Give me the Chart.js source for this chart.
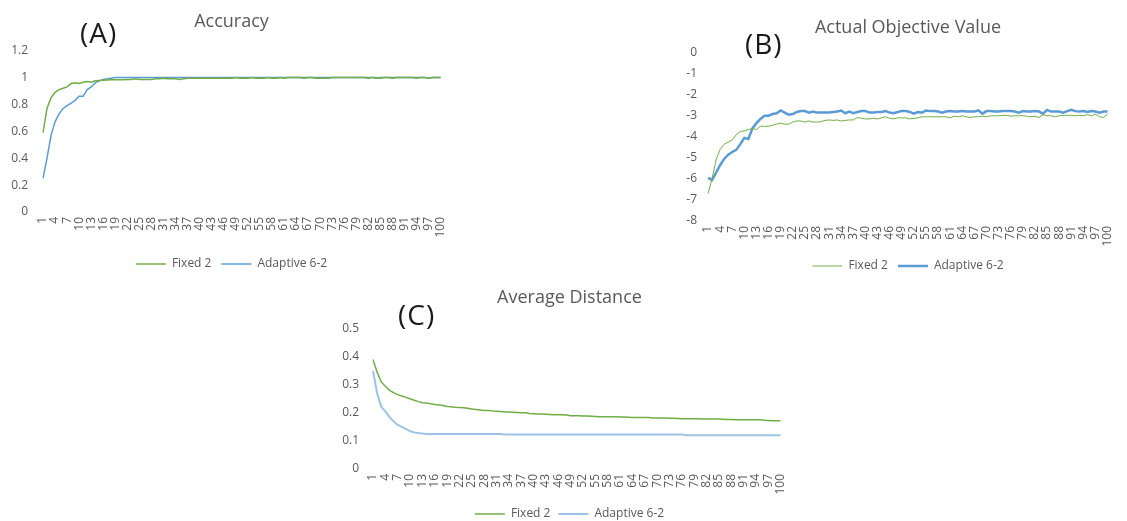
<!DOCTYPE html>
<html>
<head>
<meta charset="utf-8">
<script src="https://cdn.jsdelivr.net/npm/chart.js@4.4.1/dist/chart.umd.min.js"></script>
<style>
  body { margin: 0; background: #fff; width: 1127px; height: 521px; position: relative; overflow: hidden; font-family: "Open Sans", sans-serif; }
  .box { position: absolute; }
  .tag { position: absolute; font-size: 28px; color: #1a1a1a; line-height: 1; letter-spacing: 1px; }
</style>
</head>
<body>
<div class="box" style="left:0;top:0;width:460px;height:280px"><canvas id="accuracy"></canvas></div>
<div class="box" style="left:670px;top:2px;width:457px;height:280px"><canvas id="objective"></canvas></div>
<div class="box" style="left:330px;top:285px;width:470px;height:245px"><canvas id="distance"></canvas></div>
<div class="tag" style="left:80px;top:18px">(A)</div>
<div class="tag" style="left:745px;top:29px">(B)</div>
<div class="tag" style="left:398px;top:300px">(C)</div>
<script>
var seriesNames = ["Fixed 2", "Adaptive 6-2"];

var iterations = [];
for (var i = 1; i <= 100; i++) iterations.push(String(i));

// (A) accuracy
var fixedAcc = [
  0.59, 0.77, 0.85, 0.89, 0.91, 0.92, 0.93, 0.955, 0.96, 0.955,
  0.965, 0.97, 0.965, 0.975, 0.978, 0.98, 0.982, 0.983, 0.983, 0.984,
  0.984, 0.985, 0.985, 0.99, 0.985, 0.985, 0.985, 0.985, 0.99, 0.99,
  0.995, 0.99, 0.99, 0.99, 0.985, 0.99, 0.995, 0.995, 0.995, 0.995,
  0.995, 0.995, 0.995, 0.995, 0.995, 0.995, 0.995, 0.995, 1, 0.995,
  0.995, 0.995, 1, 0.995, 0.995, 0.995, 1, 0.995, 0.995, 1,
  0.995, 1, 1, 1, 1, 0.995, 1, 1, 0.995, 0.995,
  0.995, 0.995, 1, 1, 1, 1, 1, 1, 1, 1,
  1, 0.995, 1, 1, 0.995, 1, 1, 0.995, 1, 1,
  1, 1, 1, 0.995, 1, 1, 0.995, 1, 1, 1
];
var adaptiveAcc = [
  0.25, 0.40, 0.57, 0.67, 0.73, 0.77, 0.79, 0.81, 0.83, 0.86,
  0.86, 0.91, 0.93, 0.96, 0.975, 0.985, 0.99, 0.995, 1, 1,
  1, 1, 1, 1, 1, 1, 1, 1, 1, 1,
  1, 1, 1, 1, 1, 1, 1, 1, 1, 1,
  1, 1, 1, 1, 1, 1, 1, 1, 1, 1,
  1, 1, 1, 1, 1, 1, 1, 1, 1, 1,
  1, 1, 1, 1, 1, 1, 1, 1, 1, 1,
  1, 1, 1, 1, 1, 1, 1, 1, 1, 1,
  1, 1, 1, 0.995, 1, 1, 1, 1, 1, 1,
  1, 1, 1, 1, 1, 1, 0.995, 1, 1, 1
];

// (B) actual objective value
var fixedObj = [
  -6.7, -6.0, -5.1, -4.6, -4.35, -4.25, -4.15, -3.9, -3.75, -3.72,
  -3.65, -3.62, -3.65, -3.5, -3.5, -3.5, -3.45, -3.4, -3.35, -3.4,
  -3.4, -3.3, -3.25, -3.25, -3.3, -3.25, -3.3, -3.3, -3.28, -3.22,
  -3.2, -3.22, -3.2, -3.25, -3.22, -3.2, -3.2, -3.08, -3.12, -3.15,
  -3.15, -3.12, -3.15, -3.1, -3.05, -3.12, -3.15, -3.1, -3.1, -3.1,
  -3.15, -3.12, -3.1, -3.05, -3.05, -3.05, -3.05, -3.05, -3.05, -3.05,
  -3.1, -3.02, -3.05, -3.0, -3.05, -3.08, -3.05, -3.05, -3.02, -3.05,
  -3.0, -3.0, -3.0, -2.98, -2.98, -3.02, -3.0, -3.0, -3.0, -3.02,
  -3.05, -3.02, -3.08, -2.95, -3.0, -3.0, -3.05, -3.0, -2.98, -2.98,
  -2.98, -3.0, -2.98, -3.0, -2.95, -3.0, -2.92, -3.05, -3.08, -2.92
];
var adaptiveObj = [
  -5.95, -6.05, -5.7, -5.35, -5.05, -4.85, -4.72, -4.62, -4.35, -4.05,
  -4.1, -3.6, -3.35, -3.15, -3.0, -3.0, -2.92, -2.88, -2.75, -2.85,
  -2.95, -2.92, -2.82, -2.78, -2.78, -2.85, -2.8, -2.85, -2.85, -2.85,
  -2.85, -2.82, -2.8, -2.75, -2.88, -2.8, -2.88, -2.82, -2.78, -2.78,
  -2.85, -2.85, -2.82, -2.82, -2.78, -2.85, -2.88, -2.82, -2.78, -2.78,
  -2.82, -2.9, -2.82, -2.85, -2.75, -2.78, -2.78, -2.8, -2.85, -2.8,
  -2.78, -2.8, -2.8, -2.78, -2.8, -2.8, -2.8, -2.75, -2.9, -2.78,
  -2.78, -2.8, -2.8, -2.78, -2.78, -2.78, -2.8, -2.85, -2.78, -2.8,
  -2.8, -2.78, -2.8, -2.9, -2.72, -2.8, -2.8, -2.8, -2.85, -2.78,
  -2.72, -2.78, -2.8, -2.78, -2.82, -2.78, -2.8, -2.85, -2.8, -2.8
];

// (C) average distance
var fixedDist = [
  0.39, 0.345, 0.31, 0.295, 0.28, 0.272, 0.265, 0.26, 0.255, 0.25,
  0.245, 0.24, 0.236, 0.235, 0.232, 0.23, 0.228, 0.226, 0.223, 0.222,
  0.22, 0.219, 0.218, 0.216, 0.214, 0.212, 0.21, 0.208, 0.208, 0.207,
  0.206, 0.205, 0.203, 0.203, 0.202, 0.201, 0.2, 0.2, 0.198, 0.197,
  0.196, 0.196, 0.195, 0.194, 0.193, 0.193, 0.193, 0.192, 0.19, 0.19,
  0.19, 0.189, 0.189, 0.188, 0.187, 0.186, 0.186, 0.186, 0.186, 0.186,
  0.185, 0.185, 0.184, 0.183, 0.183, 0.183, 0.183, 0.183, 0.182, 0.182,
  0.182, 0.182, 0.181, 0.181, 0.18, 0.179, 0.179, 0.179, 0.179, 0.179,
  0.178, 0.178, 0.178, 0.178, 0.178, 0.177, 0.176, 0.176, 0.175, 0.175,
  0.175, 0.175, 0.175, 0.175, 0.175, 0.174, 0.173, 0.172, 0.172, 0.172
];
var adaptiveDist = [
  0.35, 0.27, 0.222, 0.205, 0.185, 0.17, 0.157, 0.15, 0.143, 0.135,
  0.13, 0.128, 0.126, 0.125, 0.125, 0.125, 0.125, 0.125, 0.125, 0.125,
  0.125, 0.125, 0.125, 0.125, 0.125, 0.125, 0.125, 0.125, 0.125, 0.125,
  0.125, 0.125, 0.123, 0.123, 0.123, 0.123, 0.123, 0.123, 0.123, 0.123,
  0.123, 0.123, 0.123, 0.123, 0.123, 0.123, 0.123, 0.123, 0.123, 0.123,
  0.123, 0.123, 0.123, 0.123, 0.123, 0.123, 0.123, 0.123, 0.123, 0.123,
  0.123, 0.123, 0.123, 0.123, 0.123, 0.123, 0.123, 0.123, 0.123, 0.123,
  0.123, 0.123, 0.123, 0.123, 0.123, 0.123, 0.12, 0.12, 0.12, 0.12,
  0.12, 0.12, 0.12, 0.12, 0.12, 0.12, 0.12, 0.12, 0.12, 0.12,
  0.12, 0.12, 0.12, 0.12, 0.12, 0.12, 0.12, 0.12, 0.12, 0.12
];

var green = '#70AD47';
var blue = '#5B9BD5';
var lightBlue = '#9DC3E6';
var textGrey = '#595959';
var fontFamily = '"Open Sans", sans-serif';

// Excel centres title and legend on the whole chart, not on the plot: nudge them right
var shiftBoxes = {
  id: 'shiftBoxes',
  afterLayout: function (chart, args, opts) {
    [chart.titleBlock, chart.legend].forEach(function (b) {
      if (!b) return;
      b.left += opts.shift;
      b.right += opts.shift;
    });
  }
};

function lineChart(id, title, first, second, y, look) {
  return new Chart(document.getElementById(id), {
    type: 'line',
    plugins: [shiftBoxes],
    data: {
      labels: iterations,
      datasets: [
        { label: seriesNames[0], data: first, borderColor: green, backgroundColor: green,
          borderWidth: look.w1, pointRadius: 0, tension: 0 },
        { label: seriesNames[1], data: second, borderColor: look.blue, backgroundColor: look.blue,
          borderWidth: look.w2, pointRadius: 0, tension: 0 }
      ]
    },
    options: {
      responsive: true,
      maintainAspectRatio: false,
      animation: false,
      layout: { padding: { left: 0, right: look.right, top: 0, bottom: 0 } },
      plugins: {
        shiftBoxes: { shift: look.shift },
        title: {
          display: true, text: title, color: textGrey,
          font: { family: fontFamily, size: 18, weight: 'normal' },
          padding: look.titlePad
        },
        legend: {
          position: 'bottom',
          labels: {
            usePointStyle: true, pointStyle: 'line', pointStyleWidth: 30,
            color: textGrey, font: { family: fontFamily, size: 12 }, padding: look.legendPad
          }
        },
        tooltip: { enabled: false }
      },
      scales: {
        x: {
          grid: { display: false, drawTicks: false },
          border: { display: false },
          afterFit: function (s) { s.height = look.xHeight; },
          ticks: {
            autoSkip: false, maxRotation: 90, minRotation: 90, padding: 5,
            color: textGrey, font: { family: fontFamily, size: 12 },
            callback: function (v, i) { return (i % 3 === 0 || i === 99) ? this.getLabelForValue(v) : ''; }
          }
        },
        y: {
          min: y.min, max: y.max,
          grid: { display: false, drawTicks: false },
          border: { display: false },
          afterFit: function (s) { s.width = look.yWidth; },
          ticks: {
            stepSize: y.step, padding: look.yPad,
            color: textGrey, font: { family: fontFamily, size: 12 },
            callback: function (v) { return String(Number(v.toFixed(1))); }
          }
        }
      }
    }
  });
}

var accChart = lineChart('accuracy', 'Accuracy', fixedAcc, adaptiveAcc,
  { min: 0, max: 1.2, step: 0.2 },
  { w1: 1.5, w2: 1.5, blue: blue, right: 17, shift: 10, titlePad: { top: 11, bottom: 18 },
    yWidth: 43, yPad: 15, xHeight: 36, legendPad: 10 });

var objChart = lineChart('objective', 'Actual Objective Value', fixedObj, adaptiveObj,
  { min: -8, max: 0, step: 1 },
  { w1: 1, w2: 2.5, blue: blue, right: 5, shift: 12, titlePad: { top: 15, bottom: 14 },
    yWidth: 38, yPad: 11, xHeight: 29, legendPad: 10 });

var distChart = lineChart('distance', 'Average Distance', fixedDist, adaptiveDist,
  { min: 0, max: 0.5, step: 0.1 },
  { w1: 1.5, w2: 2, blue: lightBlue, right: 15, shift: 12, titlePad: { top: 2, bottom: 20 },
    yWidth: 43, yPad: 14, xHeight: 31, legendPad: 8 });
</script>
</body>
</html>
